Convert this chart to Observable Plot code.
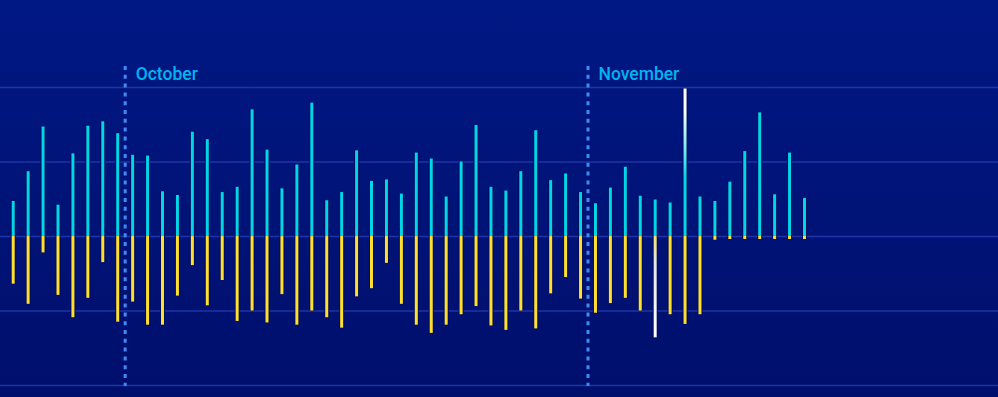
<!DOCTYPE html>
<html>
<head>
<meta charset="utf-8">
<script src="https://cdn.jsdelivr.net/npm/d3@7"></script>
<script src="https://cdn.jsdelivr.net/npm/@observablehq/plot@0.6"></script>
<style>
  html, body { margin: 0; padding: 0; }
  body { width: 998px; height: 397px; overflow: hidden; background: linear-gradient(#001884, #000f6c); }
  #chart svg { display: block; background: transparent; }
</style>
</head>
<body>
<div id="chart"></div>
<script>
// ---- data ----
const startDay = "2023-09-23";
const upValues = [45,85,145,40,109,146,152,136,107,106,
                  58,53,138,128,57,64,168,114,62,94,
                  177,46,57,113,72,74,55,110,102,51,
                  98,147,64,59,85,140,73,82,57,42,
                  63,91,52,47,43,196,51,45,71,112,
                  164,54,110,49];
const downValues = [-62,-89,-20,-77,-107,-81,-33,-113,-86,-117,
                    -117,-78,-37,-91,-57,-112,-98,-114,-76,-117,
                    -98,-107,-121,-79,-68,-34,-89,-117,-128,-117,
                    -103,-92,-118,-124,-98,-122,-75,-53,-82,-101,
                    -88,-81,-98,-134,-103,-116,-103,-3,-2,-2,
                    -2,-2,-2,-2];
const highlightUpDay = "2023-11-07";
const highlightDownDay = "2023-11-05";
const monthStarts = ["2023-10-01", "2023-11-01"];
const monthLabels = ["October", "November"];
const gridTicks = [-200, -100, 0, 100, 200];

// ---- build table ----
const day0 = new Date(startDay + "T12:00:00Z");
const rows = upValues.map((u, i) => {
  const date = new Date(+day0 + i * 864e5);
  return {date, key: date.toISOString().slice(0, 10), up: u, down: downValues[i]};
});
const normalUp = rows.filter(d => d.key !== highlightUpDay);
const hiUp = rows.filter(d => d.key === highlightUpDay);
const normalDown = rows.filter(d => d.key !== highlightDownDay);
const hiDown = rows.filter(d => d.key === highlightDownDay);
const months = monthStarts.map((m, i) => ({date: new Date(m + "T00:00:00Z"), label: monthLabels[i]}));

const CYAN = "#00d6e8", YELLOW = "#ffdf2e", EDGE = "#000c5e";

const chart = Plot.plot({
  width: 998,
  height: 397,
  margin: 0,
  style: {background: "transparent", overflow: "visible"},
  x: {type: "utc", domain: [new Date(Date.UTC(2023, 8, 22, 15, 35)), new Date(Date.UTC(2023, 10, 28, 11, 53))], axis: null},
  y: {domain: [-216.1, 316.8], axis: null},
  marks: [
    Plot.ruleY(gridTicks, {stroke: "#1e34a8", strokeWidth: 1.5}),
    // dark edges
    Plot.ruleX(rows, {x: "date", y1: 0, y2: "up", stroke: EDGE, strokeWidth: 5, insetBottom: 1.5}),
    Plot.ruleX(rows, {x: "date", y1: "down", y2: 0, stroke: EDGE, strokeWidth: 5, insetTop: 1.5}),
    // bars
    Plot.ruleX(normalUp, {x: "date", y1: 0, y2: "up", stroke: CYAN, strokeWidth: 3, insetBottom: 1.5}),
    Plot.ruleX(normalDown, {x: "date", y1: "down", y2: 0, stroke: YELLOW, strokeWidth: 3, insetTop: 1.5}),
    Plot.ruleX(hiUp, {x: "date", y1: 0, y2: "up", stroke: "url(#gradUp)", strokeWidth: 3, insetBottom: 1.5}),
    Plot.ruleX(hiDown, {x: "date", y1: "down", y2: 0, stroke: "url(#gradDown)", strokeWidth: 3, insetTop: 1.5}),
    // month markers
    Plot.ruleX(months, {x: "date", stroke: "#4189f4", strokeWidth: 3, strokeDasharray: "4,4.8", insetTop: 66, insetBottom: 11}),
    Plot.text(months, {x: "date", text: "label", frameAnchor: "top", dy: 74, dx: 10.5, textAnchor: "start",
      lineAnchor: "middle", fill: "#00b4f2", fontSize: 17.5, fontWeight: 500, fontFamily: "Roboto"})
  ]
});

document.getElementById("chart").appendChild(chart);

// gradients for highlighted bars, positioned through the chart's own y scale
const ys = chart.scale("y");
const svg = d3.select(chart);
const defs = svg.insert("defs", ":first-child");
function addGrad(id, v0, v1, stops) {
  const yTop = ys.apply(Math.max(v0, v1));
  const yBot = ys.apply(Math.min(v0, v1));
  const grad = defs.append("linearGradient").attr("id", id).attr("gradientUnits", "userSpaceOnUse")
    .attr("x1", 0).attr("x2", 0).attr("y1", yTop).attr("y2", yBot);
  stops.forEach(([o, c]) => grad.append("stop").attr("offset", o).attr("stop-color", c));
}
hiUp.forEach(d => addGrad("gradUp", 0, d.up, [[0, "#ffffff"], [0.15, "#f6ffff"], [0.42, "#6fe6f0"], [0.6, CYAN], [1, CYAN]]));
hiDown.forEach(d => addGrad("gradDown", 0, d.down, [[0, "#f5e070"], [0.3, "#e6e4f0"], [1, "#ffffff"]]));
</script>
</body>
</html>
